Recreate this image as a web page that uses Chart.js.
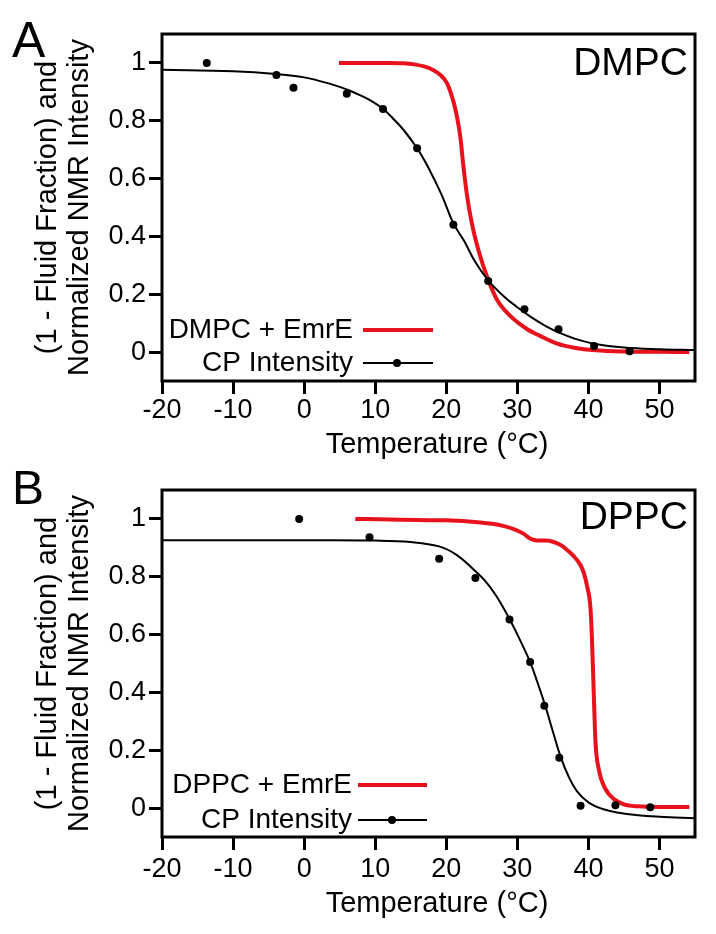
<!DOCTYPE html>
<html><head><meta charset="utf-8">
<script src="https://cdn.jsdelivr.net/npm/chart.js@4"></script>
<style>
html,body{margin:0;padding:0;background:#fff;}
#wrap{position:relative;width:716px;height:934px;overflow:hidden;}
.pane{position:absolute;left:0;width:716px;}
</style></head>
<body><div id="wrap">
<div class="pane" style="top:0;height:464px"><canvas id="cA" width="716" height="464"></canvas></div>
<div class="pane" style="top:464px;height:470px"><canvas id="cB" width="716" height="470"></canvas></div>
</div>
<script>
// ---------- data ----------
const xTickValues = [-20, -10, 0, 10, 20, 30, 40, 50];
const xTickLabels = ['-20', '-10', '0', '10', '20', '30', '40', '50'];
const yTickValues = [0, 0.2, 0.4, 0.6, 0.8, 1];
const yTickLabels = ['0', '0.2', '0.4', '0.6', '0.8', '1'];

// Panel A: DMPC
const dmpcDotT = [-13.7, -3.9, -1.5, 6.0, 11.1, 15.9, 21.0, 25.9, 31.0, 35.8, 40.8, 45.8];
const dmpcDotI = [1.0, 0.958, 0.914, 0.893, 0.841, 0.705, 0.440, 0.246, 0.148, 0.079, 0.021, 0.003];
const dmpcFitT = [-20, -10, -4, 0, 4, 6, 8, 9.5, 11, 12.5, 14, 15.9, 17, 18.2, 19.5, 21, 22.5, 24, 25.9, 28, 30, 32, 34, 36, 38, 41, 45, 50, 55];
const dmpcFitI = [0.976, 0.971, 0.962, 0.95, 0.925, 0.908, 0.887, 0.868, 0.843, 0.808, 0.768, 0.705, 0.66, 0.603, 0.535, 0.445, 0.385, 0.315, 0.248, 0.195, 0.155, 0.12, 0.09, 0.066, 0.047, 0.028, 0.016, 0.01, 0.007];
const dmpcEmrT = [4.9, 8, 12, 14, 15.5, 17, 18.2, 19.2, 20.1, 21.0, 21.5, 22.0, 22.4, 22.9, 23.6, 24.5, 25.7, 27.1, 29.0, 31.4, 33.2, 35.5, 38, 41, 45, 50, 54.2];
const dmpcEmrI = [1.0, 1.0, 1.0, 0.999, 0.995, 0.987, 0.975, 0.958, 0.93, 0.867, 0.815, 0.74, 0.645, 0.545, 0.445, 0.355, 0.263, 0.183, 0.125, 0.079, 0.056, 0.03, 0.015, 0.006, 0.002, 0.001, 0.0];

// Panel B: DPPC
const dppcDotT = [-0.7, 9.2, 19.0, 24.1, 28.9, 31.8, 33.8, 35.9, 38.9, 43.8, 48.7];
const dppcDotI = [1.0, 0.937, 0.862, 0.796, 0.652, 0.505, 0.354, 0.174, 0.008, 0.01, 0.003];
const dppcFitT = [-20, 0, 10, 15, 19, 21.5, 23.8, 25.5, 27, 28.9, 30.3, 31.8, 32.8, 33.9, 35, 36.1, 37.2, 38.4, 40.1, 42, 44, 47, 50, 55];
const dppcFitI = [0.926, 0.926, 0.925, 0.92, 0.905, 0.875, 0.826, 0.785, 0.735, 0.654, 0.585, 0.505, 0.437, 0.356, 0.265, 0.177, 0.11, 0.058, 0.018, -0.003, -0.015, -0.025, -0.03, -0.035];
const dppcEmrT = [7.2, 12, 16, 20, 24.8, 26.5, 28, 29.5, 30.8, 31.8, 32.8, 34, 35, 35.9, 36.8, 37.9, 38.9, 39.4, 39.8, 40.3, 40.52, 40.75, 41.0, 41.5, 42.4, 43.6, 45, 47, 50, 54.2];
const dppcEmrI = [1.0, 0.998, 0.996, 0.995, 0.988, 0.983, 0.976, 0.965, 0.95, 0.932, 0.925, 0.925, 0.921, 0.912, 0.897, 0.872, 0.84, 0.81, 0.769, 0.689, 0.573, 0.4, 0.227, 0.13, 0.066, 0.031, 0.013, 0.006, 0.004, 0.004];

// ---------- styling ----------
const FONT = '"Liberation Sans", Arial, Helvetica, sans-serif';
const RED = 'rgb(232,18,28)';
Chart.defaults.font.family = FONT;
Chart.defaults.color = '#000';

const pts = (t, v) => t.map((x, i) => ({x: x, y: v[i]}));

const decorPlugin = {
  id: 'decor',
  afterDraw(chart, args, o) {
    const {ctx, chartArea: a} = chart;
    ctx.save();
    // frame
    ctx.lineWidth = 3;
    ctx.strokeStyle = '#000';
    ctx.strokeRect(a.left, a.top, a.right - a.left, a.bottom - a.top);
    ctx.fillStyle = '#000';
    // x axis title
    ctx.font = '29px ' + FONT;
    ctx.textAlign = 'center';
    ctx.textBaseline = 'middle';
    ctx.fillText(o.xTitle, o.xTitleX, o.xTitleY);
    // panel letter
    ctx.textBaseline = 'alphabetic';
    ctx.textAlign = 'left';
    ctx.font = o.letterSize + 'px ' + FONT;
    ctx.fillText(o.letter, o.letterX, o.letterY);
    // lipid name
    ctx.textAlign = 'right';
    ctx.font = '39px ' + FONT;
    ctx.fillText(o.name, o.nameRight, o.nameY);
    // legend
    ctx.font = '28px ' + FONT;
    ctx.textBaseline = 'middle';
    o.rows.forEach((r, k) => {
      const ds = chart.data.datasets[r.ds];
      ctx.fillStyle = '#000';
      ctx.textAlign = 'right';
      ctx.fillText(ds.label, o.textRight, o.rowY[k]);
      ctx.strokeStyle = ds.borderColor;
      ctx.lineWidth = r.w;
      ctx.beginPath();
      ctx.moveTo(o.lineX0, o.rowY[k]);
      ctx.lineTo(o.lineX1, o.rowY[k]);
      ctx.stroke();
      if (r.dot) {
        ctx.fillStyle = '#000';
        ctx.beginPath();
        ctx.arc(o.dotX, o.rowY[k], 4, 0, Math.PI * 2);
        ctx.fill();
      }
    });
    ctx.restore();
  }
};

function makePanel(id, p) {
  const ctx = document.getElementById(id);
  return new Chart(ctx, {
    type: 'line',
    data: {
      datasets: [
        {label: p.emrLabel, data: pts(p.emrT, p.emrI), borderColor: RED, borderWidth: 4,
         pointRadius: 0, cubicInterpolationMode: 'monotone', fill: false, order: 2},
        {label: 'CP Intensity', data: pts(p.fitT, p.fitI), borderColor: '#000', borderWidth: 2,
         pointRadius: 0, tension: 0.4, fill: false, order: 1},
        {label: 'CP Intensity points', data: pts(p.dotT, p.dotI), showLine: false,
         pointRadius: 4, pointBackgroundColor: '#000', pointBorderWidth: 0, borderColor: '#000', order: 0}
      ]
    },
    options: {
      responsive: false,
      animation: false,
      events: [],
      layout: {padding: {left: 0, top: p.padTop, right: 21, bottom: 0}},
      plugins: {
        legend: {display: false},
        tooltip: {enabled: false},
        decor: p.decor
      },
      scales: {
        x: {
          type: 'linear', min: -20, max: 55,
          afterBuildTicks: s => { s.ticks = xTickValues.map(v => ({value: v})); },
          afterFit: s => { s.height = p.xHeight; },
          ticks: {font: {size: 27}, color: '#000', padding: p.xTickPad, maxRotation: 0, autoSkip: false,
                  callback: (v, i) => xTickLabels[i]},
          grid: {display: true, drawOnChartArea: false, drawTicks: true, tickLength: 13,
                 tickWidth: 3, tickColor: '#000'},
          border: {display: false},
          title: {display: false}
        },
        y: {
          type: 'linear', min: -0.1, max: 1.1,
          afterBuildTicks: s => { s.ticks = yTickValues.map(v => ({value: v})); },
          afterFit: s => { s.width = 162; },
          ticks: {font: {size: 27}, color: '#000', padding: 3, autoSkip: false,
                  callback: (v, i) => yTickLabels[i]},
          grid: {display: true, drawOnChartArea: false, drawTicks: true, tickLength: 13,
                 tickWidth: 3, tickColor: '#000'},
          border: {display: false},
          title: {display: true, text: ['(1 - Fluid Fraction) and', 'Normalized NMR Intensity'],
                  font: {size: 29, lineHeight: 1.103}, color: '#000', padding: {top: 32, bottom: 0}}
        }
      }
    },
    plugins: [decorPlugin]
  });
}

makePanel('cA', {
  emrLabel: 'DMPC + EmrE', emrT: dmpcEmrT, emrI: dmpcEmrI,
  fitT: dmpcFitT, fitI: dmpcFitI, dotT: dmpcDotT, dotI: dmpcDotI,
  padTop: 34, xHeight: 83, xTickPad: 0,
  decor: {xTitle: 'Temperature (°C)', xTitleX: 437, xTitleY: 445,
          letter: 'A', letterSize: 50, letterX: 12, letterY: 57, name: 'DMPC', nameRight: 688, nameY: 75,
          rows: [{ds: 0, w: 4}, {ds: 1, w: 2, dot: true}], rowY: [330, 363],
          textRight: 353, lineX0: 363, lineX1: 433, dotX: 397}
});
makePanel('cB', {
  emrLabel: 'DPPC + EmrE', emrT: dppcEmrT, emrI: dppcEmrI,
  fitT: dppcFitT, fitI: dppcFitI, dotT: dppcDotT, dotI: dppcDotI,
  padTop: 26, xHeight: 97, xTickPad: 3,
  decor: {xTitle: 'Temperature (°C)', xTitleX: 437, xTitleY: 440,
          letter: 'B', letterSize: 48, letterX: 12, letterY: 40, name: 'DPPC', nameRight: 688, nameY: 65,
          rows: [{ds: 0, w: 4}, {ds: 1, w: 2, dot: true}], rowY: [321, 356],
          textRight: 352, lineX0: 358, lineX1: 427, dotX: 392}
});
</script>
</body></html>
